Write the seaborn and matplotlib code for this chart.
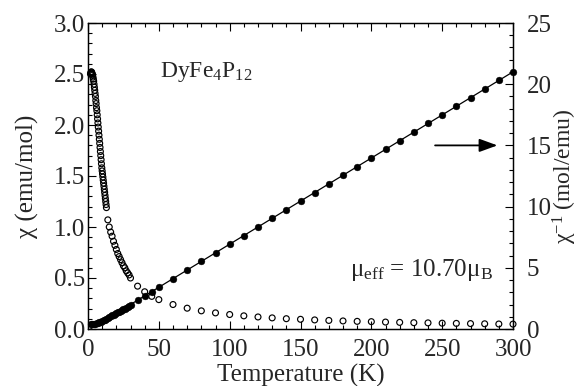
import numpy as np
import pandas as pd
import matplotlib
matplotlib.use("Agg")
import matplotlib.pyplot as plt
import seaborn as sns
from matplotlib.ticker import MultipleLocator

# ---- data ----
temp_chi = [1.75, 2.0, 2.25, 2.5, 2.75, 3.0, 3.25, 3.5, 3.75, 4.0, 4.25, 4.5, 4.75,
            5.0, 5.25, 5.5, 5.75, 6.0, 6.25, 6.5, 6.75, 7.0, 7.25, 7.5, 7.75,
            8.0, 8.25, 8.5, 8.75, 9.0, 9.25, 9.5, 9.75, 10.0, 10.25, 10.5, 10.75,
            11.0, 11.25, 11.5, 11.75, 12.0, 12.25, 12.5, 12.75, 13.0,
            14, 15, 16, 17, 18, 19, 20, 21, 22, 23, 24, 25, 26, 27, 28, 29, 30,
            35, 40, 45, 50, 60, 70, 80, 90, 100, 110, 120, 130, 140, 150, 160,
            170, 180, 190, 200, 210, 220, 230, 240, 250, 260, 270, 280, 290, 300]
chi = [2.50, 2.51, 2.52, 2.52, 2.51, 2.50, 2.49, 2.47, 2.45, 2.43, 2.40, 2.37, 2.34,
       2.31, 2.28, 2.24, 2.21, 2.17, 2.14, 2.10, 2.06, 2.02, 1.98, 1.94, 1.90,
       1.86, 1.82, 1.78, 1.74, 1.70, 1.66, 1.62, 1.58, 1.55, 1.52, 1.49, 1.46,
       1.43, 1.40, 1.37, 1.34, 1.31, 1.28, 1.25, 1.22, 1.19,
       1.07, 1.00, 0.95, 0.91, 0.86, 0.82, 0.78, 0.74, 0.71, 0.68, 0.65, 0.62,
       0.60, 0.57, 0.55, 0.53, 0.50,
       0.420, 0.365, 0.320, 0.288, 0.240, 0.204, 0.178, 0.158, 0.142, 0.129,
       0.118, 0.109, 0.101, 0.095, 0.089, 0.084, 0.079, 0.075, 0.072, 0.068,
       0.065, 0.062, 0.060, 0.057, 0.055, 0.053, 0.051, 0.049, 0.048]

temp_inv = [2, 3, 4, 5, 6, 7, 8, 9, 10, 11, 12, 13, 14, 15, 16, 17, 18, 19, 20,
            21, 22, 23, 24, 25, 26, 27, 28, 29, 30,
            35, 40, 45, 50, 60, 70, 80, 90, 100, 110, 120, 130, 140, 150, 160,
            170, 180, 190, 200, 210, 220, 230, 240, 250, 260, 270, 280, 290, 300]
chi_inv = [0.40, 0.40, 0.41, 0.43, 0.46, 0.49, 0.54, 0.59, 0.65, 0.70, 0.76, 0.84,
           0.93, 1.00, 1.06, 1.11, 1.17, 1.23, 1.29, 1.35, 1.41, 1.47, 1.54, 1.61,
           1.67, 1.74, 1.81, 1.89, 1.97,
           2.33, 2.70, 3.06, 3.41, 4.11, 4.82, 5.52, 6.23, 6.93, 7.63, 8.34, 9.04,
           9.75, 10.45, 11.15, 11.86, 12.56, 13.27, 13.97, 14.67, 15.38, 16.08,
           16.79, 17.49, 18.19, 18.90, 19.60, 20.31, 21.01]

fit_temp = [2, 300]
fit_inv = [0.03, 21.01]

x_ticks = [0, 50, 100, 150, 200, 250, 300]
left_ticks = [0.0, 0.5, 1.0, 1.5, 2.0, 2.5, 3.0]
right_ticks = [0, 5, 10, 15, 20, 25]

df_chi = pd.DataFrame({"T": temp_chi, "chi": chi})
df_inv = pd.DataFrame({"T": temp_inv, "inv": chi_inv})
df_fit = pd.DataFrame({"T": fit_temp, "inv": fit_inv})

# ---- style ----
sns.set_style("ticks")
plt.rcParams["font.family"] = ["Liberation Serif", "DejaVu Serif"]
plt.rcParams["mathtext.fontset"] = "custom"
plt.rcParams["mathtext.rm"] = "Liberation Serif"
plt.rcParams["mathtext.it"] = "Liberation Serif:italic"
plt.rcParams["mathtext.default"] = "regular"

fig = plt.figure(figsize=(5.78, 3.86), dpi=100)
ax = fig.add_axes([88 / 578, 1 - 329 / 386, (513 - 88) / 578, (329 - 23) / 386])
ax2 = ax.twinx()

sns.scatterplot(data=df_chi, x="T", y="chi", ax=ax, marker="o", s=18,
                facecolor="none", edgecolor="black", linewidth=0.85, legend=False,
                zorder=3, clip_on=False)
sns.lineplot(data=df_fit, x="T", y="inv", ax=ax2, color="black", linewidth=0.9,
             legend=False, zorder=2)
sns.scatterplot(data=df_inv, x="T", y="inv", ax=ax2, marker="o", s=24,
                color="black", edgecolor="black", linewidth=0.3, legend=False,
                zorder=3, clip_on=False)

ax.set_xlim(0, 300)
ax.set_ylim(0, 3.0)
ax2.set_ylim(0, 25)

ax.set_xticks(x_ticks)
ax.set_xticklabels([str(v) for v in x_ticks])
ax.set_yticks(left_ticks)
ax.set_yticklabels([f"{v:.1f}" for v in left_ticks])
ax2.set_yticks(right_ticks)
ax2.set_yticklabels([str(v) for v in right_ticks])

ax.xaxis.set_minor_locator(MultipleLocator(10))
ax.yaxis.set_minor_locator(MultipleLocator(0.1))
ax2.yaxis.set_minor_locator(MultipleLocator(1))

for a in (ax, ax2):
    for s in a.spines.values():
        s.set_visible(True)
        s.set_linewidth(0.9)
        s.set_color("black")

ax.tick_params(axis="x", which="both", direction="in", top=True, bottom=True,
               labelsize=18, pad=7, color="black")
ax.tick_params(axis="y", which="both", direction="in", left=True, right=False,
               labelsize=18, pad=2, color="black")
ax2.tick_params(axis="y", which="both", direction="in", left=False, right=True,
                labelsize=18, pad=10, color="black")
for a in (ax, ax2):
    a.tick_params(which="major", length=6, width=0.8)
    a.tick_params(which="minor", length=3, width=0.8)

ax.set_xlabel("Temperature (K)", fontsize=18, labelpad=2)
ax.set_ylabel("χ (emu/mol)", fontsize=18, labelpad=11)
ax2.set_ylabel("χ$^{-1}$ (mol/emu)", fontsize=17, labelpad=-1)

ax.text(51, 2.52, "DyFe$_4$P$_{12}$", fontsize=17, ha="left", va="center")
ax.text(286, 0.58, "μ$_{eff}$ = 10.70μ$_B$", fontsize=18, ha="right", va="center")

ax2.annotate("", xy=(289, 15), xytext=(245, 15),
             arrowprops=dict(arrowstyle="-|>,head_length=0.55,head_width=0.2",
                             color="black", lw=1.3, mutation_scale=20,
                             shrinkA=0, shrinkB=0))

fig.savefig("out.png", dpi=100)
